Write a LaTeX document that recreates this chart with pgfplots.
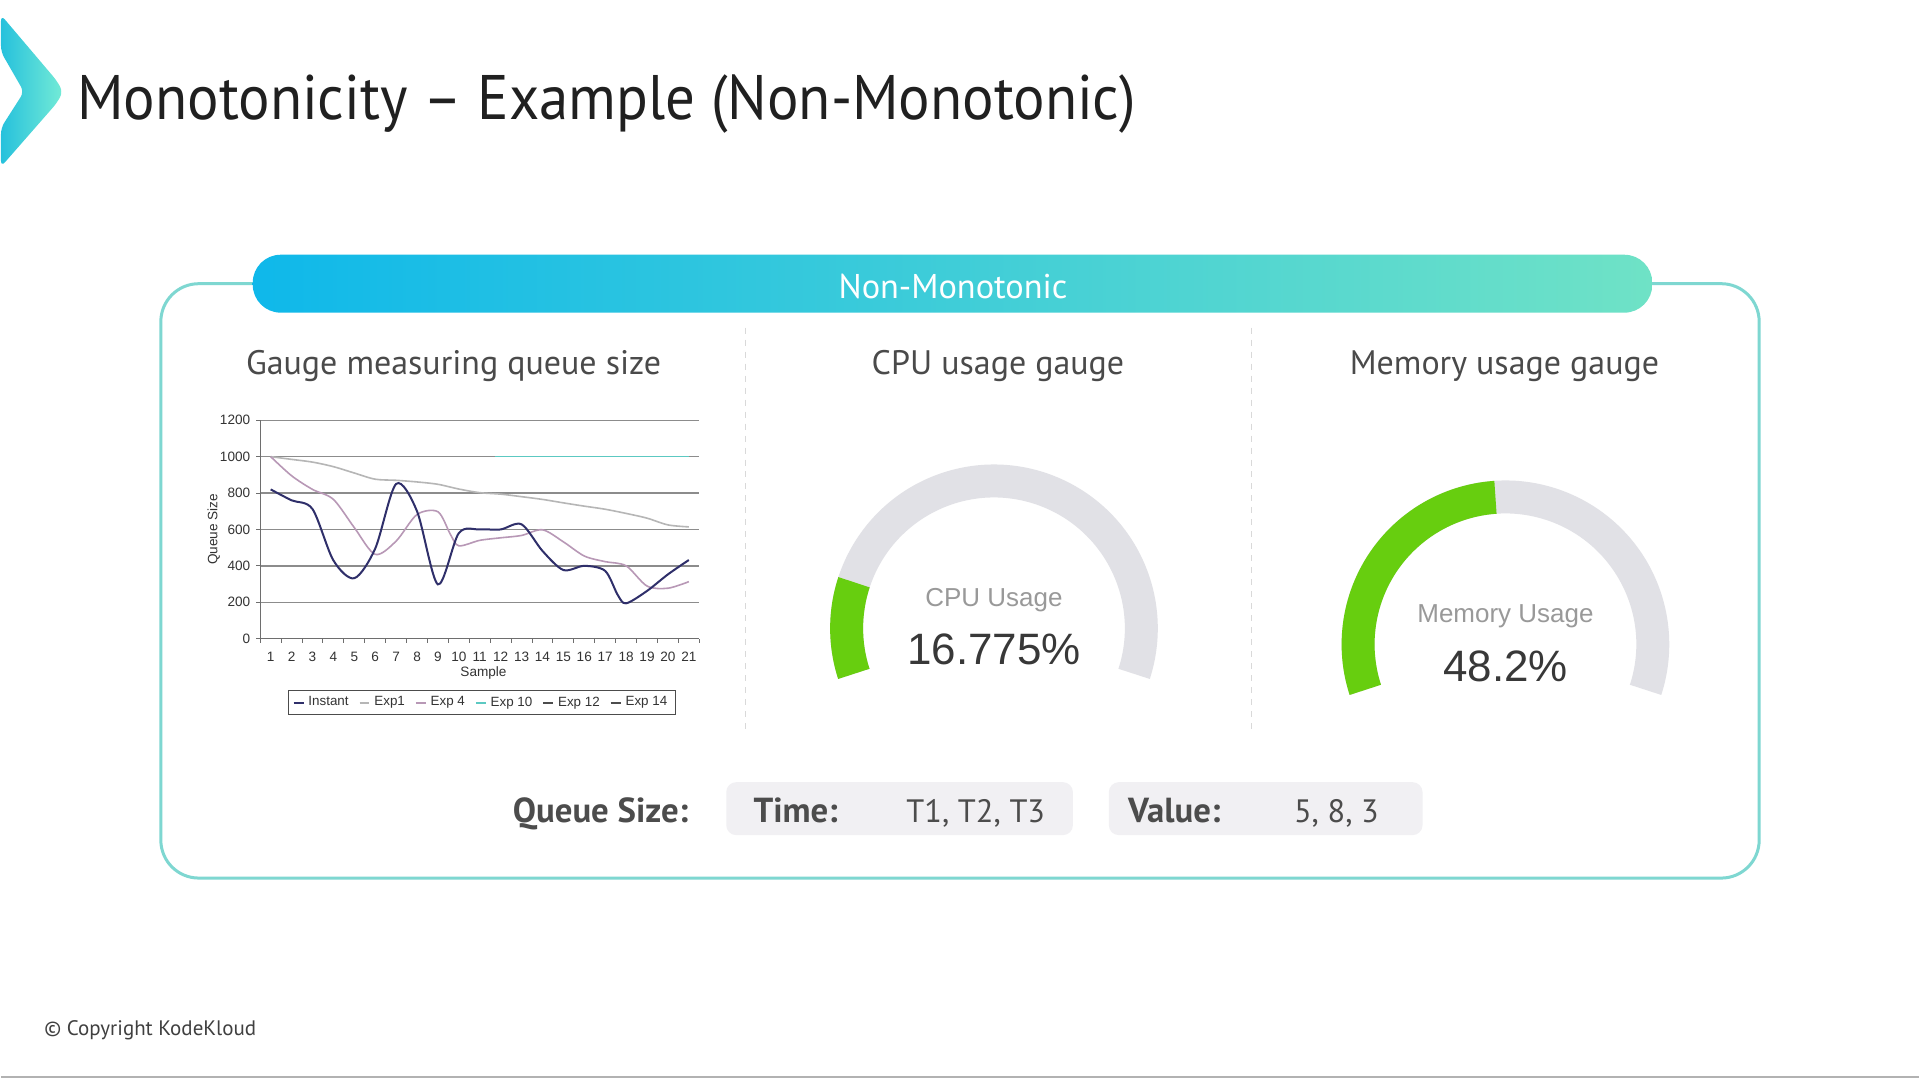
\documentclass[border=0pt]{standalone}
\usepackage{pgfplots}
\pgfplotsset{compat=1.18}
\usepackage{pgfplotstable}
\usepackage{fontspec}
\setmainfont{PT Sans}
\newfontfamily\arial{Liberation Sans}
\definecolor{titlecol}{HTML}{202020}
\definecolor{pillL}{HTML}{0FB8EA}
\definecolor{pillR}{HTML}{6FE2C6}
\definecolor{bordc}{HTML}{7ED7D1}
\definecolor{secttext}{HTML}{4A4A4A}
\definecolor{gaugegray}{HTML}{E1E1E6}
\definecolor{gaugegreen}{HTML}{67CE0F}
\definecolor{boxgray}{HTML}{F1F0F3}
\definecolor{instant}{HTML}{2F2F6A}
\definecolor{expone}{HTML}{B6B6B6}
\definecolor{expfour}{HTML}{B898B6}
\definecolor{expten}{HTML}{5CC9C2}
\definecolor{gridc}{HTML}{8C8C8C}
\definecolor{axisc}{HTML}{6E6E6E}
\definecolor{chevL}{HTML}{26C1DC}
\definecolor{chevR}{HTML}{74EBD6}

\pgfplotstableread{
x y
1 820
2 760
3 712
4 430
5 332
6 495
7 850
8 700
9 298
10 580
11 600
12 600
13 628
14 482
15 377
16 400
17 372
17.6 240
18 194
19 262
20 353
21 432
}\instanttab
\pgfplotstableread{
x y
1 1000
2 985
3 970
4 945
5 910
6 876
7 870
8 861
9 848
10 822
11 802
12 794
13 780
14 765
15 746
16 728
17 711
18 688
19 662
20 625
21 614
}\exponetab
\pgfplotstableread{
x y
1 1000
2 895
3 820
4 765
5 610
6 463
7 536
8 682
9 697
9.6 572
10 510
11 540
12 554
13 567
14 598
15 532
16 454
17 423
18 400
19 289
20 277
21 313
}\expfourtab
\pgfplotstableread{
x y
11.75 1000
21 1000
}\exptentab
\pgfplotstableread{
x y
1 1000
21 1000
}\exptwelvetab
\pgfplotstableread{
x y
1 1000
21 1000
}\expfourteentab

\def\cpuval{16.775}
\def\memval{48.2}

\begin{document}
\begin{tikzpicture}[x=0.5pt,y=0.5pt]
% background
\fill[white] (0,0) rectangle (1920,1080);
\draw[gray!60, line width=1pt] (0,2) -- (1920,2);
% chevron
\shade[left color=chevL, right color=chevR, rounded corners=3pt]
  (0,1065) -- (56,999) -- (62,988) -- (56,977) -- (0,913) -- (0,952) -- (23,988) -- (0,1028) -- cycle;
% title
\node[anchor=base west, inner sep=0pt, text=titlecol, font=\fontsize{31.5}{36}\selectfont] at (76,960) {\scalebox{0.935}[1]{Monotonicity -- Example (Non-Monotonic)}};
% outer frame
\draw[bordc, line width=1.5pt, rounded corners=19pt] (160,201) rectangle (1760,796);
% pill
\shade[left color=pillL, right color=pillR, rounded corners=14pt] (252,767) rectangle (1653,825);
\node[text=white, font=\fontsize{17.2}{20}\selectfont, inner sep=0pt] at (953,793) {Non-Monotonic};
% dividers
\draw[black!15, dashed, line width=0.5pt] (745,752) -- (745,345);
\draw[black!15, dashed, line width=0.5pt] (1252,752) -- (1252,345);
% section titles
\node[anchor=base, inner sep=0pt, text=secttext, font=\fontsize{17}{20}\selectfont] at (453,705) {Gauge measuring queue size};
\node[anchor=base, inner sep=0pt, text=secttext, font=\fontsize{17}{20}\selectfont] at (998,705) {CPU usage gauge};
\node[anchor=base, inner sep=0pt, text=secttext, font=\fontsize{17}{20}\selectfont] at (1505,705) {Memory usage gauge};

% chart
\begin{axis}[
  at={(129.75pt,220.35pt)}, anchor=south west,
  scale only axis, width=219.75pt, height=109.3pt,
  xmin=0.5, xmax=21.5, ymin=0, ymax=1200,
  axis x line*=bottom, axis y line*=left,
  axis line style={draw=axisc, line width=0.6pt},
  xtick={1,...,21}, minor xtick={0.5,1.5,...,21.5},
  ytick={0,200,...,1200}, minor ytick={0,200,...,1200},
  major tick length=0pt, minor tick length=2pt, tick align=outside,
  every tick/.style={draw=axisc, line width=0.5pt},
  ymajorgrids, major grid style={draw=gridc, line width=0.7pt},
  ticklabel style={font=\arial\fontsize{6.8}{8}\selectfont, text=black!80},
  /pgf/number format/assume math mode=true,
  /pgf/number format/1000 sep={},
  xticklabel style={yshift=-3pt},
  yticklabel style={xshift=-1.5pt},
  xlabel={Sample}, ylabel={Queue Size},
  label style={font=\arial\fontsize{6.8}{8}\selectfont, text=black!80},
  xlabel style={at={(axis description cs:0.5085,-0.159)}, anchor=center},
  ylabel style={at={(axis description cs:-0.106,0.5)}, anchor=center},
  legend style={at={(axis description cs:0.505,-0.294)}, anchor=center,
    legend columns=-1, draw=black!70, line width=0.5pt,
    font=\arial\fontsize{6.7}{8}\selectfont, text=black!80,
    inner xsep=2pt, inner ysep=1pt,
    /tikz/every even column/.append style={column sep=3pt}},
  legend image code/.code={\draw[#1, line width=0.9pt] (0pt,0pt) -- (5pt,0pt);},
]
\addplot[forget plot, draw=gridc, line width=0.7pt] table {\exptwelvetab};
\addplot[forget plot, draw=gridc, line width=0.7pt] table {\expfourteentab};
\addplot[forget plot, draw=expten, line width=0.8pt] table {\exptentab};
\addplot[forget plot, draw=expone, line width=0.8pt, smooth, tension=0.5] table {\exponetab};
\addplot[forget plot, draw=expfour, line width=0.8pt, smooth, tension=0.5] table {\expfourtab};
\addplot[forget plot, draw=instant, line width=1pt, smooth, tension=0.5] table {\instanttab};
\addlegendimage{draw=instant}\addlegendentry{Instant}
\addlegendimage{draw=expone}\addlegendentry{Exp1}
\addlegendimage{draw=expfour}\addlegendentry{Exp 4}
\addlegendimage{draw=expten}\addlegendentry{Exp 10}
\addlegendimage{draw=black!70}\addlegendentry{Exp 12}
\addlegendimage{draw=black!70}\addlegendentry{Exp 14}
\end{axis}

% CPU gauge
\begin{scope}[shift={(994,451)}]
\pgfmathsetmacro{\cpuend}{198-2.16*\cpuval}
\fill[gaugegray] (198:164) arc[start angle=198, end angle=-18, radius=164] -- (-18:131) arc[start angle=-18, end angle=198, radius=131] -- cycle;
\fill[gaugegreen] (198:164) arc[start angle=198, end angle=\cpuend, radius=164] -- (\cpuend:131) arc[start angle=\cpuend, end angle=198, radius=131] -- cycle;
\node[text=black!40, font=\arial\fontsize{13}{15}\selectfont] at (0,28) {CPU Usage};
\node[text=black!78, font=\arial\fontsize{22}{26}\selectfont] at (0,-21) {16.775\%};
\end{scope}
% Memory gauge
\begin{scope}[shift={(1506,435)}]
\pgfmathsetmacro{\memend}{198-2.16*\memval}
\fill[gaugegray] (198:164) arc[start angle=198, end angle=-18, radius=164] -- (-18:131) arc[start angle=-18, end angle=198, radius=131] -- cycle;
\fill[gaugegreen] (198:164) arc[start angle=198, end angle=\memend, radius=164] -- (\memend:131) arc[start angle=\memend, end angle=198, radius=131] -- cycle;
\node[text=black!40, font=\arial\fontsize{13}{15}\selectfont] at (0,28) {Memory Usage};
\node[text=black!78, font=\arial\fontsize{22}{26}\selectfont] at (0,-22) {48.2\%};
\end{scope}

% bottom row
\fill[boxgray, rounded corners=5pt] (726,244) rectangle (1073,297);
\fill[boxgray, rounded corners=5pt] (1109,244) rectangle (1423,297);
\node[anchor=base west, inner sep=0pt, text=black!70, font=\bfseries\fontsize{17.4}{22}\selectfont] at (512,257) {Queue Size:};
\node[anchor=base west, inner sep=0pt, text=black!70, font=\bfseries\fontsize{17.4}{22}\selectfont] at (753,257) {Time:};
\node[anchor=base west, inner sep=0pt, text=black!70, font=\fontsize{16.2}{22}\selectfont] at (906,257) {T1, T2, T3};
\node[anchor=base west, inner sep=0pt, text=black!70, font=\bfseries\fontsize{17.4}{22}\selectfont] at (1128,257) {Value:};
\node[anchor=base west, inner sep=0pt, text=black!70, font=\fontsize{16.2}{22}\selectfont] at (1294,257) {5, 8, 3};
% footer
\node[anchor=west, inner sep=0pt, text=black!75, font=\fontsize{10.5}{12}\selectfont] at (43,49) {\textcopyright{} Copyright KodeKloud};
\end{tikzpicture}
\end{document}
